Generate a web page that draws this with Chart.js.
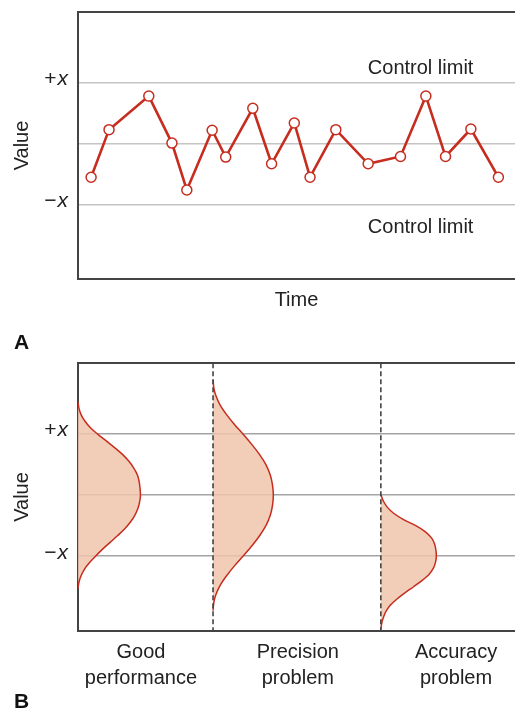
<!DOCTYPE html>
<html>
<head>
<meta charset="utf-8">
<script src="https://cdn.jsdelivr.net/npm/chart.js@4.4.0/dist/chart.umd.min.js"></script>
<style>
  body { margin: 0; background: #fff; width: 515px; height: 711px; position: relative; overflow: hidden; }
  canvas { position: absolute; left: 0; }
  #chartA { top: 0; }
  #chartB { top: 320px; }
  .panel { position: absolute; left: 14px; font: bold 21px/20px "Liberation Sans", Arial, sans-serif; color: #111; }
</style>
</head>
<body>
<canvas id="chartA" width="515" height="320"></canvas>
<canvas id="chartB" width="515" height="391"></canvas>
<div class="panel" style="top:332px">A</div>
<div class="panel" style="top:691px">B</div>
<script>
// ---- data ----------------------------------------------------------------
// panel A: control chart (time in arbitrary units 0..100, value in units of x)
const TIME = [3, 7.1, 16.2, 21.5, 24.9, 30.7, 33.8, 40.0, 44.3, 49.5, 53.1, 59.0, 66.4, 73.8, 79.6, 84.1, 89.9, 96.2];
const VALUES = [-0.55, 0.23, 0.78, 0.01, -0.76, 0.22, -0.22, 0.58, -0.33, 0.34, -0.55, 0.23, -0.33, -0.21, 0.78, -0.21, 0.24, -0.55];
const Y_TICKS = [-1, 0, 1];
const Y_TICK_SIGNS = { '1': '+', '-1': '\u2212' };
const LIMIT_LABEL = 'Control limit';

// panel B: distributions drawn sideways (value, spread)
const CATEGORIES = [['Good', 'performance'], ['Precision', 'problem'], ['Accuracy', 'problem']];
const CATEGORY_POS = [1.44, 5.03, 8.65];
const DIVIDERS = [3.09, 6.93];
const CURVE_BASE = [0, 3.09, 6.93];
const GOOD_VAL = [1.53, 1.43, 1.32, 1.21, 1.10, 1.00, 0.88, 0.77, 0.66, 0.55, 0.44, 0.33, 0.22, 0.11, 0,
  -0.11, -0.22, -0.33, -0.44, -0.55, -0.66, -0.77, -0.88, -1.00, -1.10, -1.21, -1.32, -1.43, -1.53];
const GOOD_SPREAD = [0, 0.02, 0.07, 0.16, 0.29, 0.45, 0.66, 0.85, 1.03, 1.17, 1.28, 1.36, 1.40, 1.42, 1.43,
  1.41, 1.37, 1.30, 1.20, 1.07, 0.91, 0.74, 0.57, 0.40, 0.27, 0.15, 0.07, 0.02, 0];
const PREC_VAL = [1.89, 1.75, 1.64, 1.48, 1.32, 1.15, 0.99, 0.82, 0.66, 0.50, 0.33, 0.17, 0,
  -0.17, -0.33, -0.50, -0.66, -0.82, -0.99, -1.15, -1.32, -1.48, -1.64, -1.75, -1.89];
const PREC_SPREAD = [0, 0.02, 0.06, 0.16, 0.31, 0.50, 0.70, 0.90, 1.07, 1.21, 1.31, 1.36, 1.38,
  1.36, 1.31, 1.21, 1.07, 0.90, 0.70, 0.50, 0.31, 0.16, 0.06, 0.02, 0];
const ACC_VAL = [0.01, -0.1, -0.2, -0.3, -0.4, -0.5, -0.6, -0.7, -0.8, -0.9, -1.0,
  -1.1, -1.2, -1.3, -1.4, -1.5, -1.6, -1.7, -1.8, -1.9, -2.0, -2.1, -2.2];
const ACC_SPREAD = [0, 0.06, 0.15, 0.30, 0.52, 0.80, 1.02, 1.16, 1.23, 1.26, 1.27,
  1.25, 1.20, 1.10, 0.94, 0.75, 0.55, 0.37, 0.22, 0.12, 0.06, 0.02, 0];

// ---- styles ----------------------------------------------------------------
const FONT = '"Liberation Sans", Arial, sans-serif';
const TEXT = '#222';
const AXIS = '#444';
const RED = '#c62d1f';
const FILL = 'rgba(240, 196, 172, 0.85)';
const Y_MIN = -2.22, Y_MAX = 2.16;

Chart.defaults.font.family = FONT;
Chart.defaults.color = TEXT;

// +x / -x labels with italic x
const yLabels = {
  id: 'yLabels',
  afterDraw(chart) {
    const ctx = chart.ctx;
    const y = chart.scales.y;
    const right = chart.chartArea.left - 10;
    ctx.save();
    ctx.fillStyle = TEXT;
    ctx.textAlign = 'right';
    ctx.textBaseline = 'middle';
    [1, -1].forEach(v => {
      const py = y.getPixelForValue(v) - 3.5;
      ctx.font = 'italic 21px ' + FONT;
      const wx = ctx.measureText('x').width;
      ctx.fillText('x', right, py);
      ctx.font = '21px ' + FONT;
      ctx.fillText(Y_TICK_SIGNS[String(v)], right - wx - 1, py);
    });
    ctx.restore();
  }
};

const limitLabels = {
  id: 'limitLabels',
  afterDraw(chart) {
    const ctx = chart.ctx;
    const x = chart.scales.x, y = chart.scales.y;
    const cx = x.getPixelForValue(78.4);
    ctx.save();
    ctx.fillStyle = TEXT;
    ctx.font = '20px ' + FONT;
    ctx.textAlign = 'center';
    ctx.textBaseline = 'alphabetic';
    ctx.fillText(LIMIT_LABEL, cx, y.getPixelForValue(1) - 9);
    ctx.fillText(LIMIT_LABEL, cx, y.getPixelForValue(-1) + 28.5);
    ctx.restore();
  }
};

function frameAxis(pos, size) {
  return {
    type: 'linear', position: pos, display: true,
    ticks: { display: false }, grid: { display: false },
    border: { display: true, color: AXIS, width: 2 },
    afterFit: s => { s.height = size; }
  };
}

function valueAxis(gridColor) {
  return {
    type: 'linear', min: Y_MIN, max: Y_MAX,
    afterBuildTicks: s => { s.ticks = Y_TICKS.map(v => ({ value: v })); },
    ticks: { display: false },
    grid: { color: gridColor, lineWidth: 1.5, drawTicks: false },
    border: { display: true, color: AXIS, width: 2 },
    title: { display: true, text: 'Value', font: { size: 20 }, color: TEXT, padding: { top: 10 } },
    afterFit: s => { s.width = 78; }
  };
}

// ---- A: control chart ------------------------------------------------------
new Chart(document.getElementById('chartA'), {
  type: 'line',
  data: {
    datasets: [{
      data: TIME.map((t, i) => ({ x: t, y: VALUES[i] })),
      borderColor: RED,
      borderWidth: 2.6,
      tension: 0,
      pointRadius: 5,
      pointBorderWidth: 1.5,
      pointBackgroundColor: '#fff',
      pointBorderColor: RED,
      fill: false
    }]
  },
  options: {
    responsive: false,
    animation: false,
    layout: { padding: 0, autoPadding: false },
    plugins: { legend: { display: false }, tooltip: { enabled: false } },
    scales: {
      x: {
        type: 'linear', min: 0, max: 100,
        ticks: { display: false }, grid: { display: false },
        border: { display: true, color: AXIS, width: 2 },
        title: { display: true, text: 'Time', font: { size: 20 }, color: TEXT, padding: { top: 0, bottom: 8 } },
        afterFit: s => { s.height = 41; }
      },
      xTop: frameAxis('top', 12),
      y: valueAxis('#c4c4c4')
    }
  },
  plugins: [yLabels, limitLabels]
});

// ---- B: distributions ------------------------------------------------------
const curve = (vals, spread, base) => ({
  data: vals.map((v, i) => ({ x: base + spread[i], y: v })),
  borderColor: RED,
  borderWidth: 1.5,
  backgroundColor: FILL,
  fill: { value: base },
  cubicInterpolationMode: 'monotone',
  pointRadius: 0,
  order: 1
});

const divider = pos => ({
  data: [{ x: pos, y: Y_MAX }, { x: pos, y: Y_MIN }],
  borderColor: AXIS,
  borderWidth: 1.6,
  borderDash: [5, 3],
  pointRadius: 0,
  fill: false,
  order: 0
});

new Chart(document.getElementById('chartB'), {
  type: 'line',
  data: {
    datasets: [
      curve(GOOD_VAL, GOOD_SPREAD, CURVE_BASE[0]),
      curve(PREC_VAL, PREC_SPREAD, CURVE_BASE[1]),
      curve(ACC_VAL, ACC_SPREAD, CURVE_BASE[2]),
      ...DIVIDERS.map(divider)
    ]
  },
  options: {
    indexAxis: 'y',
    responsive: false,
    animation: false,
    layout: { padding: 0, autoPadding: false },
    plugins: { legend: { display: false }, tooltip: { enabled: false } },
    scales: {
      x: {
        type: 'linear', min: 0, max: 10,
        afterBuildTicks: s => { s.ticks = CATEGORY_POS.map(v => ({ value: v })); },
        ticks: {
          callback: (v, i) => CATEGORIES[i],
          autoSkip: false, maxRotation: 0, padding: 8,
          font: { size: 20, lineHeight: 1.33 }, color: TEXT
        },
        grid: { display: false, drawTicks: false },
        border: { display: true, color: AXIS, width: 2 },
        afterFit: s => { s.height = 80.3; }
      },
      xTop: frameAxis('top', 43.3),
      y: valueAxis('#a4a4a4')
    }
  },
  plugins: [yLabels]
});
</script>
</body>
</html>
